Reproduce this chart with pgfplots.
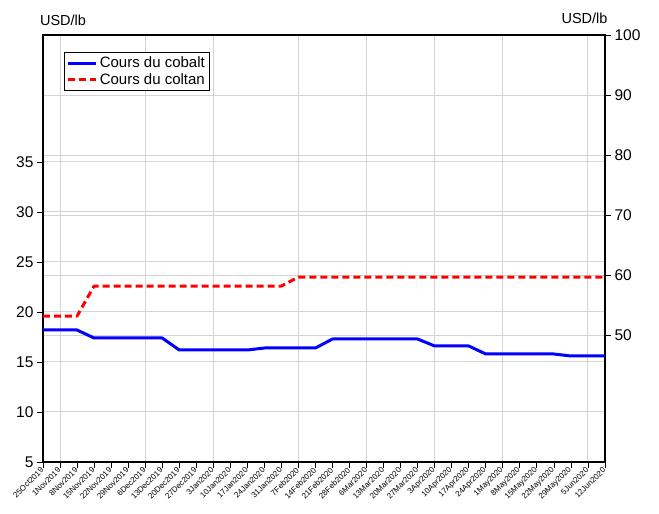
\documentclass[border=0pt]{standalone}
\usepackage{fontspec}
\setmainfont{Liberation Sans}
\usepackage{pgfplots}
\pgfplotsset{compat=1.18}
\definecolor{gridgray}{RGB}{212,212,212}
\definecolor{cobaltblue}{RGB}{0,0,255}
\definecolor{coltanred}{RGB}{255,0,0}
\pgfplotsset{set layers}
\begin{document}
\begin{tikzpicture}
% right axis (coltan)
\begin{axis}[
  scale only axis, width=562pt, height=427pt,
  xmin=0, xmax=33, ymin=28.9, ymax=100,
  axis x line*=bottom, axis y line*=right,
  xtick=\empty,
  axis line style={black, line width=1.2pt, -},
  ytick={50,60,...,100},
  ymajorgrids, grid style={gridgray, line width=1pt},
  tick align=outside, major tick length=6pt,
  tick style={black, line width=0.8pt},
  yticklabel style={font=\fontsize{15.5}{15.5}\selectfont},
  /pgf/number format/assume math mode=true,
]
\addplot[coltanred, line width=3pt, dash pattern=on 7pt off 4pt, line join=round] coordinates {
(0,53.2)(1,53.2)(2,53.2)(3,58.2)(4,58.2)(5,58.2)(6,58.2)(7,58.2)(8,58.2)(9,58.2)(10,58.2)(11,58.2)(12,58.2)(13,58.2)(14,58.2)
(15,59.7)(16,59.7)(17,59.7)(18,59.7)(19,59.7)(20,59.7)(21,59.7)(22,59.7)(23,59.7)(24,59.7)(25,59.7)(26,59.7)(27,59.7)(28,59.7)(29,59.7)(30,59.7)(31,59.7)(32,59.7)(33,59.7)
};
\end{axis}
% left axis (cobalt)
\begin{axis}[
  scale only axis, width=562pt, height=427pt,
  xmin=0, xmax=33, ymin=5, ymax=47.7,
  axis line style={black, line width=1.2pt},
  ytick={5,10,...,35},
  ytick pos=left, xtick pos=bottom,
  ymajorgrids, grid style={gridgray, line width=1pt},
  tick align=outside, major tick length=6pt,
  tick style={black, line width=0.8pt},
  yticklabel style={font=\fontsize{15.5}{15.5}\selectfont},
  /pgf/number format/assume math mode=true,
  xtick={0,...,33},
  xticklabels={25Oct2019,1Nov2019,8Nov2019,15Nov2019,22Nov2019,29Nov2019,6Dec2019,13Dec2019,20Dec2019,27Dec2019,3Jan2020,10Jan2020,17Jan2020,24Jan2020,31Jan2020,7Feb2020,14Feb2020,21Feb2020,28Feb2020,6Mar2020,13Mar2020,20Mar2020,27Mar2020,3Apr2020,10Apr2020,17Apr2020,24Apr2020,1May2020,8May2020,15May2020,22May2020,29May2020,5Jun2020,12Jun2020},
  xticklabel style={font=\fontsize{8}{8}\selectfont, rotate=45, anchor=east, inner sep=1pt},
  extra x ticks={1,6,10,15,19,23,27,32},
  extra x tick labels={},
  extra x tick style={xmajorgrids=true, major tick length=0pt},
  legend style={at={(axis description cs:0.037,0.960)}, anchor=north west, draw=black, line width=1pt, font=\fontsize{15}{16}\selectfont, inner sep=2.5pt, row sep=0pt},
  legend cell align=left,
  legend image code/.code={\draw[#1] (0pt,0pt) -- (28pt,0pt);},
]
\addplot[cobaltblue, line width=3pt, line join=round] coordinates {
(0,18.2)(1,18.2)(2,18.2)(3,17.4)(4,17.4)(5,17.4)(6,17.4)(7,17.4)(8,16.2)(9,16.2)(10,16.2)(11,16.2)(12,16.2)
(13,16.4)(14,16.4)(15,16.4)(16,16.4)(17,17.3)(18,17.3)(19,17.3)(20,17.3)(21,17.3)(22,17.3)(23,16.6)(24,16.6)(25,16.6)
(26,15.8)(27,15.8)(28,15.8)(29,15.8)(30,15.8)(31,15.6)(32,15.6)(33,15.6)
};
\addlegendentry{Cours du cobalt}
\addlegendimage{coltanred, line width=3pt, dash pattern=on 7pt off 4pt}
\addlegendentry{Cours du coltan}
\end{axis}
\node[font=\fontsize{14.5}{14.5}\selectfont] at (20pt,441.5pt) {USD/lb};
\node[font=\fontsize{14.5}{14.5}\selectfont] at (541.5pt,444pt) {USD/lb};
\path (-43pt,-52pt) rectangle (616pt,462pt);
\end{tikzpicture}
\end{document}
